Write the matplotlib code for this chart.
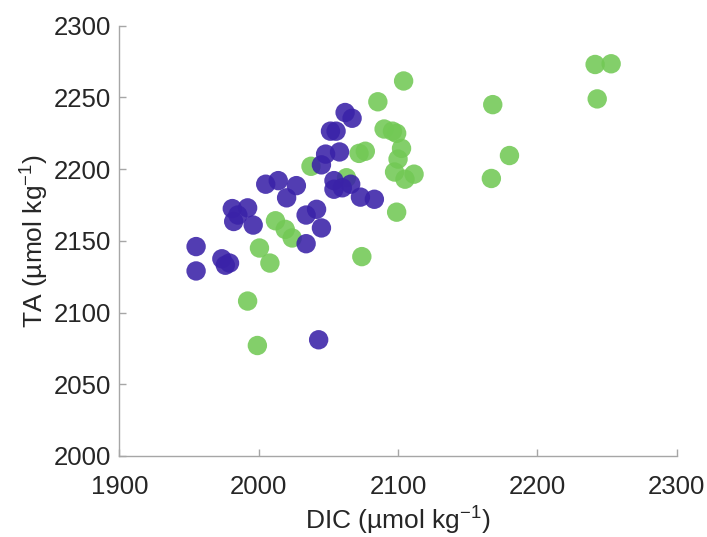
import matplotlib.pyplot as plt

plt.rcParams['font.family'] = ['Liberation Sans', 'DejaVu Sans']
plt.rcParams['mathtext.fontset'] = 'custom'
plt.rcParams['mathtext.rm'] = 'Liberation Sans'
plt.rcParams['mathtext.default'] = 'regular'

# purple group (DIC, TA)
dic_purple = [1955, 1955, 1973.5, 1976, 1979, 1981, 1982, 1985, 1992, 1996,
              2005, 2014, 2020, 2027, 2034, 2041.5, 2034, 2045, 2043, 2045,
              2048, 2058, 2051.5, 2055.5, 2062, 2067, 2054, 2054, 2060, 2066,
              2073, 2083]
ta_purple = [2146, 2129, 2137.5, 2133, 2134.5, 2172.5, 2163.5, 2168, 2173, 2161,
             2189.5, 2192, 2180, 2188.5, 2168, 2172, 2148, 2159, 2081, 2203,
             2210.5, 2212, 2226.5, 2226.5, 2239.5, 2235.5, 2192, 2186, 2187, 2189.5,
             2180.5, 2179]

# green group
dic_green = [1992, 1999, 2000.5, 2008, 2012, 2019, 2024, 2037.5, 2063, 2074,
             2072, 2076.5, 2085.5, 2090, 2096, 2099, 2102.5, 2100, 2097.5, 2105,
             2111.5, 2099, 2104, 2168, 2180, 2167, 2241.5, 2253, 2243]
ta_green = [2108, 2077, 2145, 2134.5, 2164, 2158, 2152, 2202, 2194, 2139,
            2211, 2212.5, 2247, 2228, 2226.5, 2225, 2214.5, 2207, 2198, 2193,
            2196.5, 2170, 2261.5, 2245, 2209.5, 2193.5, 2273, 2273.5, 2249]

fig = plt.figure(figsize=(7.07, 5.37), dpi=100)
ax = fig.add_axes([0.169, 0.151, 0.788, 0.801])

ax.scatter(dic_green, ta_green, s=195, color='#72C955', alpha=0.88,
           edgecolors='none', zorder=3)
ax.scatter(dic_purple, ta_purple, s=195, color='#3A22A8', alpha=0.88,
           edgecolors='none', zorder=3)

ax.set_xlim(1900, 2300)
ax.set_ylim(2000, 2300)
ax.set_xticks([1900, 2000, 2100, 2200, 2300])
ax.set_yticks([2000, 2050, 2100, 2150, 2200, 2250, 2300])

for side in ['top', 'right']:
    ax.spines[side].set_visible(False)
for side in ['left', 'bottom']:
    ax.spines[side].set_color('#a6a6a6')
    ax.spines[side].set_linewidth(1.0)

ax.tick_params(direction='in', length=5, width=1, color='#a6a6a6',
               labelsize=18.5, labelcolor='#262626')
ax.tick_params(axis='x', pad=14)
ax.tick_params(axis='y', pad=6)

ax.set_xlabel('DIC (µmol kg$^{-1}$)', fontsize=19, color='#262626', labelpad=4)
ax.set_ylabel('TA (µmol kg$^{-1}$)', fontsize=19, color='#262626', labelpad=2)

fig.savefig('out.png', dpi=100)
